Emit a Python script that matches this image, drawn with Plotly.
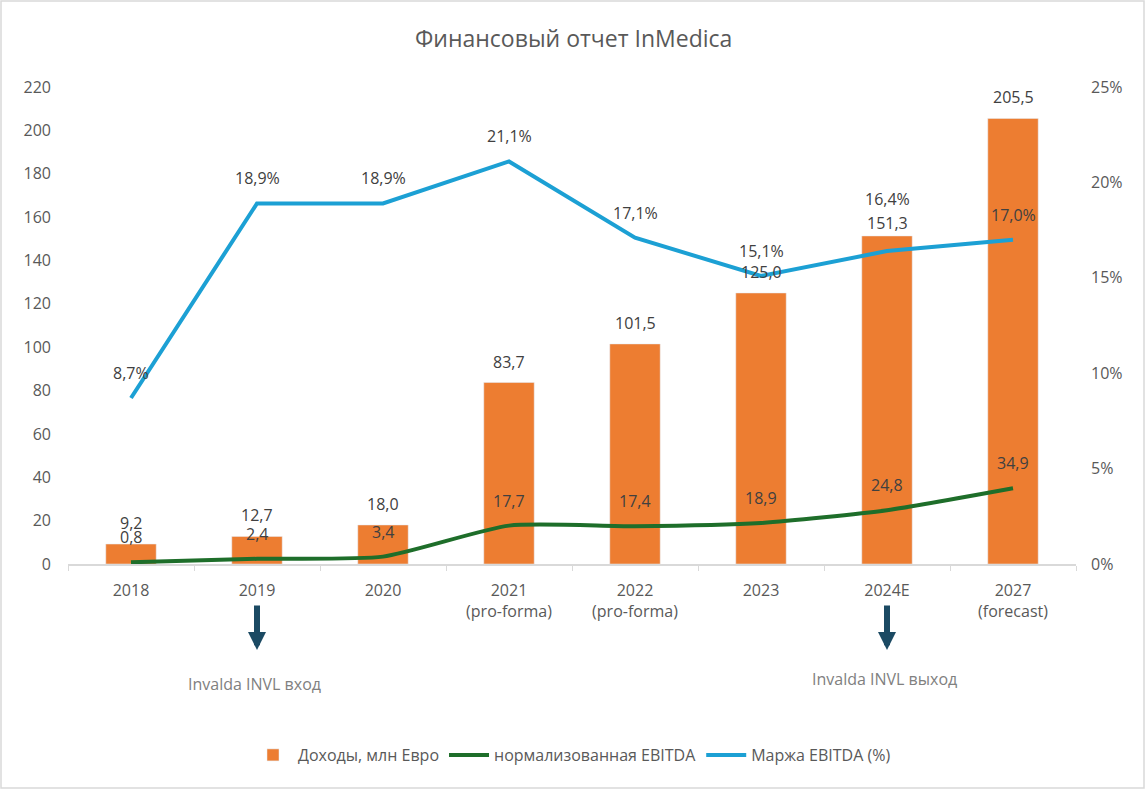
import plotly.graph_objects as go

categories = ["2018", "2019", "2020", "2021<br>(pro-forma)", "2022<br>(pro-forma)", "2023", "2024E", "2027<br>(forecast)"]
revenue = [9.2, 12.7, 18.0, 83.7, 101.5, 125.0, 151.3, 205.5]
ebitda = [0.8, 2.4, 3.4, 17.7, 17.4, 18.9, 24.8, 34.9]
margin = [8.7, 18.9, 18.9, 21.1, 17.1, 15.1, 16.4, 17.0]

left_ticks = list(range(0, 221, 20))
right_ticks = [0, 5, 10, 15, 20, 25]

def fmt(v):
    return f"{v:.1f}".replace(".", ",")

FONT = "Open Sans"
TXT = "#404040"
FS = 16
LBL = dict(size=FS, color=TXT, family=FONT)

fig = go.Figure()
fig.add_trace(go.Bar(
    x=categories, y=revenue, name="Доходы, млн Евро",
    marker_color="#ED7D31", width=0.4,
))
fig.add_trace(go.Scatter(
    x=categories, y=ebitda, name="нормализованная EBITDA",
    mode="lines", line=dict(color="#1E6E2A", width=4, shape="spline", smoothing=0.6),
    cliponaxis=False,
))
fig.add_trace(go.Scatter(
    x=categories, y=margin, name="Маржа EBITDA (%)", yaxis="y2",
    mode="lines", line=dict(color="#1CA0D4", width=4),
    cliponaxis=False,
))

L, R, T, B = 68, 70, 87, 226
PW, PH = 1146 - L - R, 790 - T - B

def px(x):
    return (x - L) / PW

def py(y):
    return (790 - B - y) / PH

idx_entry = categories.index("2019")
idx_exit = categories.index("2024E")

annotations = [
    dict(text="Финансовый отчет InMedica", xref="paper", yref="paper",
         x=px(573), y=py(38), yanchor="middle", showarrow=False,
         font=dict(size=23, color="#595959", family=FONT)),
    dict(text="Invalda INVL вход", xref="x", yref="paper", x=idx_entry, y=py(684),
         yanchor="middle", showarrow=False, xshift=-3,
         font=dict(size=FS, color="#808080", family=FONT)),
    dict(text="Invalda INVL выход", xref="x", yref="paper", x=idx_exit, y=py(679),
         yanchor="middle", showarrow=False, xshift=-3,
         font=dict(size=FS, color="#808080", family=FONT)),
]
for i in [idx_entry, idx_exit]:
    annotations.append(dict(
        text="", xref="x", yref="paper", x=i, y=py(650),
        ax=0, ay=-46, showarrow=True, arrowhead=2, arrowsize=0.6,
        arrowwidth=6, arrowcolor="#1B4A63",
    ))

# label offsets (pixels above the mark), Excel-like collision adjustment at 2024E
bar_shift = [21] * len(categories)
bar_shift[idx_exit] = 13
margin_shift = [25] * len(categories)
margin_shift[idx_exit] = 52

for i, v in enumerate(revenue):
    annotations.append(dict(text=fmt(v), xref="x", yref="y", x=i, y=v,
                            yanchor="middle", yshift=bar_shift[i], showarrow=False, font=LBL))
for i, v in enumerate(ebitda):
    annotations.append(dict(text=fmt(v), xref="x", yref="y", x=i, y=v,
                            yanchor="middle", yshift=25, showarrow=False, font=LBL))
for i, v in enumerate(margin):
    annotations.append(dict(text=fmt(v) + "%", xref="x", yref="y2", x=i, y=v,
                            yanchor="middle", yshift=margin_shift[i], showarrow=False, font=LBL))

fig.update_layout(
    width=1146, height=790,
    margin=dict(l=L, r=R, t=T, b=B),
    paper_bgcolor="white", plot_bgcolor="white",
    font=dict(family=FONT, size=FS, color="#595959"),
    showlegend=True,
    legend=dict(orientation="h", x=0.5, xanchor="center", y=py(755), yanchor="middle",
                itemwidth=40, tracegroupgap=0,
                font=dict(size=FS, color="#595959", family=FONT)),
    xaxis=dict(type="category", categoryorder="array", categoryarray=categories,
               range=[-0.5, len(categories) - 0.5],
               showgrid=False, showline=True, linecolor="#D9D9D9",
               linewidth=1.5, ticks="outside", tickson="boundaries", ticklen=5,
               tickcolor="#D9D9D9", tickangle=0, ticklabelstandoff=11,
               tickfont=dict(size=FS, color="#595959")),
    yaxis=dict(range=[0, 220], tickvals=left_ticks, showgrid=False, zeroline=False,
               tickfont=dict(size=FS, color="#595959"), ticklabelstandoff=16),
    yaxis2=dict(range=[0, 25], tickvals=right_ticks, ticktext=[f"{t}%" for t in right_ticks],
                overlaying="y", side="right", showgrid=False, zeroline=False,
                tickfont=dict(size=FS, color="#595959"), ticklabelstandoff=14),
    annotations=annotations,
    shapes=[dict(type="rect", xref="paper", yref="paper",
                 x0=px(1), x1=px(1144), y0=py(788), y1=py(1),
                 line=dict(color="#D9D9D9", width=1.5))],
)

fig.write_html("out.html")
